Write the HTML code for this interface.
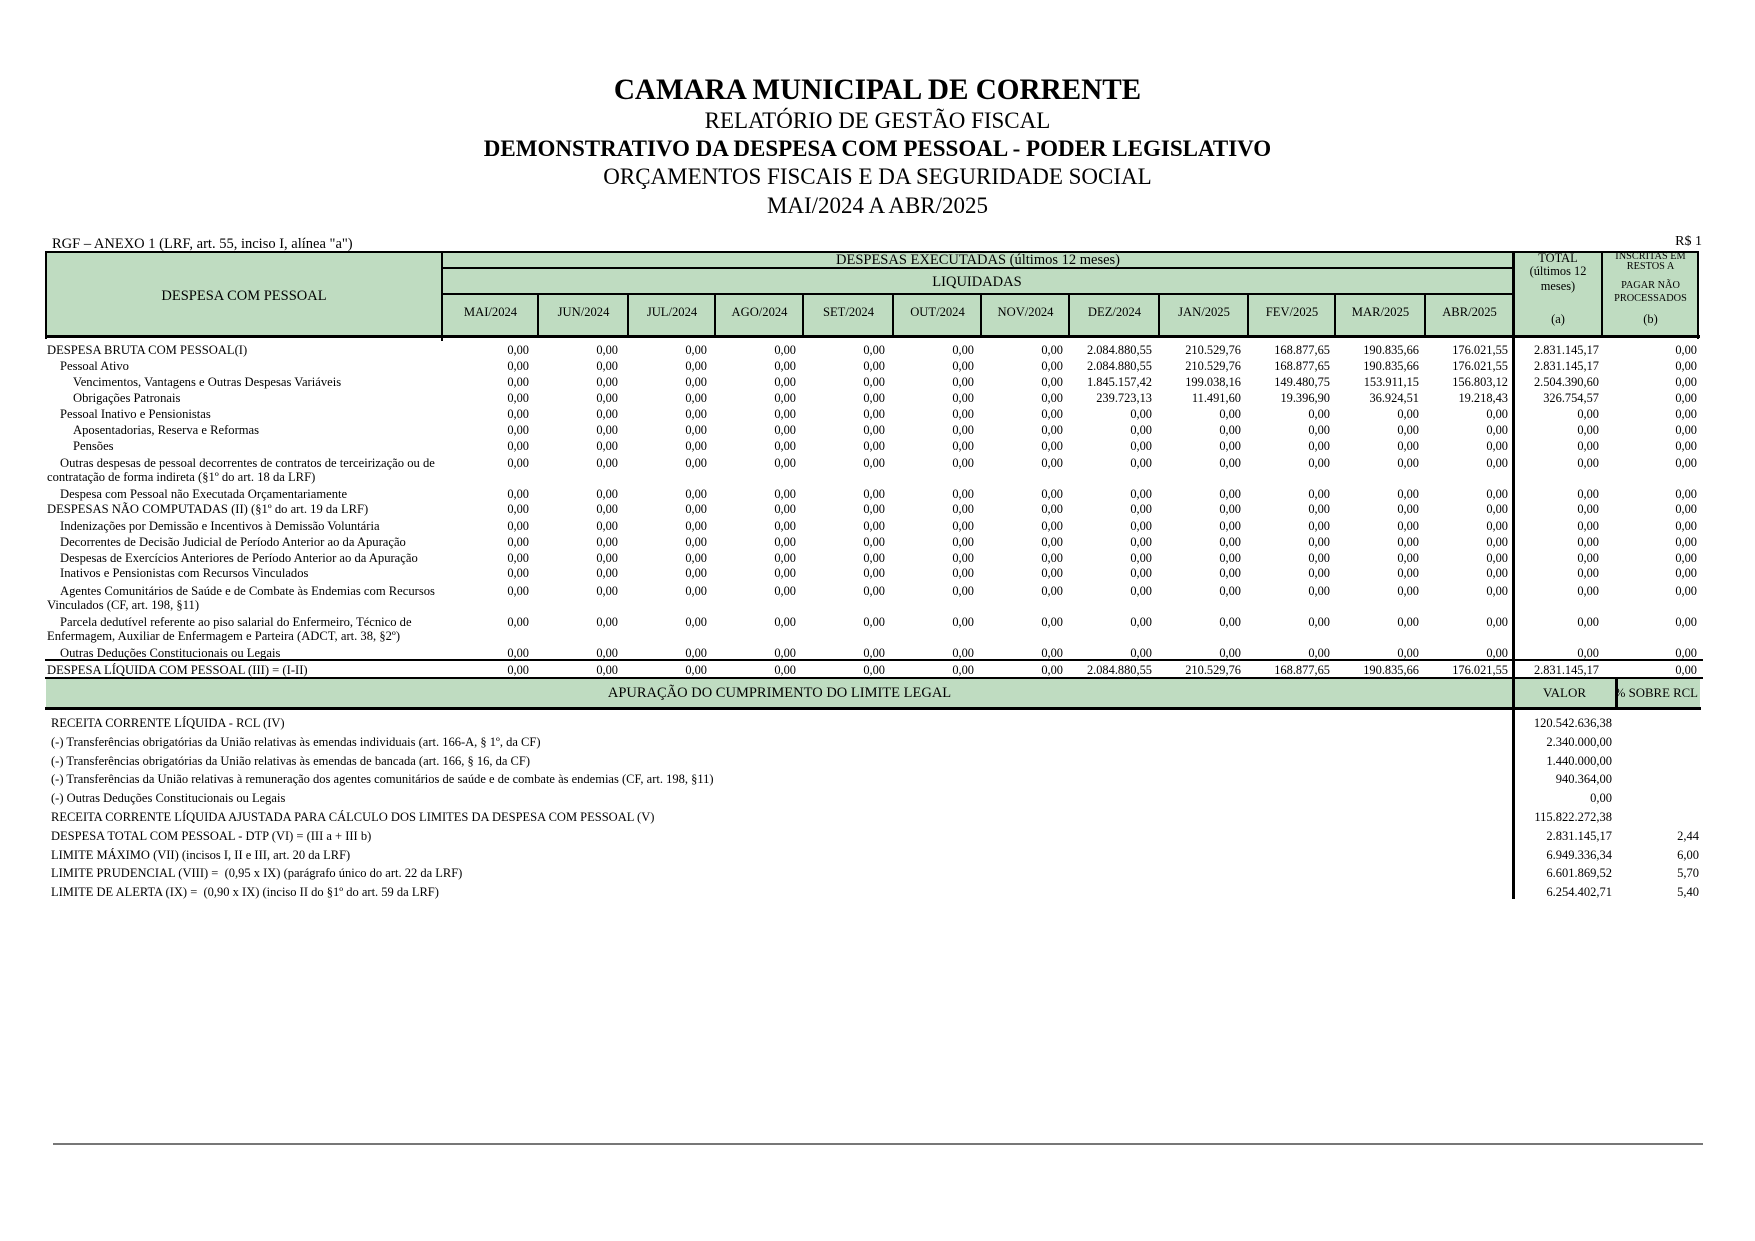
<!DOCTYPE html>
<html>
<head>
<meta charset="utf-8">
<style>
html,body{margin:0;padding:0;background:#fff;}
#p{position:relative;width:1755px;height:1241px;overflow:hidden;background:#fff;font-family:"Liberation Serif","Times New Roman",serif;color:#000;}
.t{position:absolute;white-space:nowrap;line-height:16px;font-size:12.6px;}
.h{font-size:14.5px;line-height:18px;}
.c{text-align:center;}
.ln{position:absolute;background:#000;}
.g{position:absolute;background:#bfdcc1;}
.ti{position:absolute;left:377.5px;width:1000px;text-align:center;white-space:nowrap;}
.v{position:absolute;left:440px;display:grid;grid-template-columns:repeat(12,89px) 91px 98px;line-height:16px;font-size:12.4px;white-space:nowrap;}
.v span{text-align:right;display:block;}
.lo{position:absolute;left:51px;white-space:nowrap;line-height:18px;font-size:12.5px;}
.lv{position:absolute;white-space:nowrap;line-height:18px;font-size:12.5px;text-align:right;}
</style>
</head>
<body>
<div id="p">

<!-- Titles -->
<div class="ti" style="top:71px;font-size:29.2px;line-height:38px;font-weight:bold;">CAMARA MUNICIPAL DE CORRENTE</div>
<div class="ti" style="top:106px;font-size:23px;line-height:30px;">RELATÓRIO DE GESTÃO FISCAL</div>
<div class="ti" style="top:134px;font-size:23px;line-height:30px;font-weight:bold;">DEMONSTRATIVO DA DESPESA COM PESSOAL - PODER LEGISLATIVO</div>
<div class="ti" style="top:162px;font-size:23px;line-height:30px;">ORÇAMENTOS FISCAIS E DA SEGURIDADE SOCIAL</div>
<div class="ti" style="top:191px;font-size:23px;line-height:30px;">MAI/2024 A ABR/2025</div>

<div class="t" style="left:52px;top:234.5px;font-size:14.5px;line-height:18px;">RGF – ANEXO 1 (LRF, art. 55, inciso I, alínea "a")</div>
<div class="t" style="right:53px;top:233px;font-size:14px;line-height:18px;">R$ 1</div>

<!-- Green header -->
<div class="g" style="left:46px;top:252px;width:1652px;height:84px;"></div>

<!-- Header lines -->
<div class="ln" style="left:46px;top:251px;width:1653px;height:2px;"></div>
<div class="ln" style="left:45px;top:251px;width:2px;height:88px;"></div>
<div class="ln" style="left:441px;top:251px;width:2px;height:90px;"></div>
<div class="ln" style="left:442px;top:267px;width:1072px;height:2px;"></div>
<div class="ln" style="left:442px;top:293px;width:1072px;height:2px;"></div>
<div class="ln" style="left:537px;top:294px;width:2px;height:43px;"></div>
<div class="ln" style="left:627px;top:294px;width:2px;height:43px;"></div>
<div class="ln" style="left:714px;top:294px;width:2px;height:43px;"></div>
<div class="ln" style="left:802px;top:294px;width:2px;height:43px;"></div>
<div class="ln" style="left:892px;top:294px;width:2px;height:43px;"></div>
<div class="ln" style="left:980px;top:294px;width:2px;height:43px;"></div>
<div class="ln" style="left:1068px;top:294px;width:2px;height:43px;"></div>
<div class="ln" style="left:1158px;top:294px;width:2px;height:43px;"></div>
<div class="ln" style="left:1247px;top:294px;width:2px;height:43px;"></div>
<div class="ln" style="left:1334px;top:294px;width:2px;height:43px;"></div>
<div class="ln" style="left:1424px;top:294px;width:2px;height:43px;"></div>
<div class="ln" style="left:1512px;top:251px;width:2.5px;height:648px;"></div>
<div class="ln" style="left:1601px;top:251px;width:2px;height:87px;"></div>
<div class="ln" style="left:1697px;top:251px;width:2px;height:88px;"></div>
<div class="ln" style="left:45px;top:335px;width:1655px;height:3px;"></div>

<!-- Header texts -->
<div class="t c h" style="left:46px;width:396px;top:287px;">DESPESA COM PESSOAL</div>
<div class="t c h" style="left:728px;width:500px;top:251px;">DESPESAS EXECUTADAS (últimos 12 meses)</div>
<div class="t c h" style="left:877px;width:200px;top:273px;">LIQUIDADAS</div>
<div class="t c" style="left:443px;width:95px;top:304px;">MAI/2024</div>
<div class="t c" style="left:539px;width:89px;top:304px;">JUN/2024</div>
<div class="t c" style="left:629px;width:86px;top:304px;">JUL/2024</div>
<div class="t c" style="left:716px;width:87px;top:304px;">AGO/2024</div>
<div class="t c" style="left:804px;width:89px;top:304px;">SET/2024</div>
<div class="t c" style="left:894px;width:87px;top:304px;">OUT/2024</div>
<div class="t c" style="left:982px;width:87px;top:304px;">NOV/2024</div>
<div class="t c" style="left:1070px;width:89px;top:304px;">DEZ/2024</div>
<div class="t c" style="left:1160px;width:88px;top:304px;">JAN/2025</div>
<div class="t c" style="left:1249px;width:86px;top:304px;">FEV/2025</div>
<div class="t c" style="left:1336px;width:89px;top:304px;">MAR/2025</div>
<div class="t c" style="left:1426px;width:87px;top:304px;">ABR/2025</div>

<div class="t c" style="left:1514px;width:88px;top:250px;font-size:12.4px;">TOTAL</div>
<div class="t c" style="left:1514px;width:88px;top:263px;font-size:12.4px;">(últimos 12</div>
<div class="t c" style="left:1514px;width:88px;top:278px;font-size:12.4px;">meses)</div>
<div class="t c" style="left:1514px;width:88px;top:311px;font-size:12.4px;">(a)</div>

<div class="t c" style="left:1603px;width:95px;top:251px;font-size:10.3px;line-height:12px;">INSCRITAS EM</div>
<div class="t c" style="left:1603px;width:95px;top:261px;font-size:10.3px;line-height:12px;">RESTOS A</div>
<div class="t c" style="left:1603px;width:95px;top:280px;font-size:10.3px;line-height:12px;">PAGAR NÃO</div>
<div class="t c" style="left:1603px;width:95px;top:293px;font-size:10.3px;line-height:12px;">PROCESSADOS</div>
<div class="t c" style="left:1603px;width:95px;top:311px;font-size:12.4px;">(b)</div>

<!-- Body labels -->
<div class="t" style="left:47px;top:341.5px;">DESPESA BRUTA COM PESSOAL(I)</div>
<div class="t" style="left:60px;top:357.6px;">Pessoal Ativo</div>
<div class="t" style="left:73px;top:373.7px;">Vencimentos, Vantagens e Outras Despesas Variáveis</div>
<div class="t" style="left:73px;top:389.8px;">Obrigações Patronais</div>
<div class="t" style="left:60px;top:405.9px;">Pessoal Inativo e Pensionistas</div>
<div class="t" style="left:73px;top:422px;">Aposentadorias, Reserva e Reformas</div>
<div class="t" style="left:73px;top:438px;">Pensões</div>
<div class="t" style="left:60px;top:454.5px;">Outras despesas de pessoal decorrentes de contratos de terceirização ou de</div>
<div class="t" style="left:47px;top:469px;">contratação de forma indireta (§1º do art. 18 da LRF)</div>
<div class="t" style="left:60px;top:485.5px;">Despesa com Pessoal não Executada Orçamentariamente</div>
<div class="t" style="left:47px;top:501px;">DESPESAS NÃO COMPUTADAS (II) (§1º do art. 19 da LRF)</div>
<div class="t" style="left:60px;top:517.5px;">Indenizações por Demissão e Incentivos à Demissão Voluntária</div>
<div class="t" style="left:60px;top:533.5px;">Decorrentes de Decisão Judicial de Período Anterior ao da Apuração</div>
<div class="t" style="left:60px;top:549.5px;">Despesas de Exercícios Anteriores de Período Anterior ao da Apuração</div>
<div class="t" style="left:60px;top:565px;">Inativos e Pensionistas com Recursos Vinculados</div>
<div class="t" style="left:60px;top:583px;">Agentes Comunitários de Saúde e de Combate às Endemias com Recursos</div>
<div class="t" style="left:47px;top:597px;">Vinculados (CF, art. 198, §11)</div>
<div class="t" style="left:60px;top:613.5px;">Parcela dedutível referente ao piso salarial do Enfermeiro, Técnico de</div>
<div class="t" style="left:47px;top:628px;">Enfermagem, Auxiliar de Enfermagem e Parteira (ADCT, art. 38, §2º)</div>
<div class="t" style="left:60px;top:644.5px;">Outras Deduções Constitucionais ou Legais</div>
<div class="t" style="left:47px;top:661.5px;">DESPESA LÍQUIDA COM PESSOAL (III) = (I-II)</div>

<!-- Body values -->
<div class="v" style="top:341.5px;"><span>0,00</span><span>0,00</span><span>0,00</span><span>0,00</span><span>0,00</span><span>0,00</span><span>0,00</span><span>2.084.880,55</span><span>210.529,76</span><span>168.877,65</span><span>190.835,66</span><span>176.021,55</span><span>2.831.145,17</span><span>0,00</span></div>
<div class="v" style="top:357.6px;"><span>0,00</span><span>0,00</span><span>0,00</span><span>0,00</span><span>0,00</span><span>0,00</span><span>0,00</span><span>2.084.880,55</span><span>210.529,76</span><span>168.877,65</span><span>190.835,66</span><span>176.021,55</span><span>2.831.145,17</span><span>0,00</span></div>
<div class="v" style="top:373.7px;"><span>0,00</span><span>0,00</span><span>0,00</span><span>0,00</span><span>0,00</span><span>0,00</span><span>0,00</span><span>1.845.157,42</span><span>199.038,16</span><span>149.480,75</span><span>153.911,15</span><span>156.803,12</span><span>2.504.390,60</span><span>0,00</span></div>
<div class="v" style="top:389.8px;"><span>0,00</span><span>0,00</span><span>0,00</span><span>0,00</span><span>0,00</span><span>0,00</span><span>0,00</span><span>239.723,13</span><span>11.491,60</span><span>19.396,90</span><span>36.924,51</span><span>19.218,43</span><span>326.754,57</span><span>0,00</span></div>
<div class="v" style="top:405.9px;"><span>0,00</span><span>0,00</span><span>0,00</span><span>0,00</span><span>0,00</span><span>0,00</span><span>0,00</span><span>0,00</span><span>0,00</span><span>0,00</span><span>0,00</span><span>0,00</span><span>0,00</span><span>0,00</span></div>
<div class="v" style="top:422px;"><span>0,00</span><span>0,00</span><span>0,00</span><span>0,00</span><span>0,00</span><span>0,00</span><span>0,00</span><span>0,00</span><span>0,00</span><span>0,00</span><span>0,00</span><span>0,00</span><span>0,00</span><span>0,00</span></div>
<div class="v" style="top:438px;"><span>0,00</span><span>0,00</span><span>0,00</span><span>0,00</span><span>0,00</span><span>0,00</span><span>0,00</span><span>0,00</span><span>0,00</span><span>0,00</span><span>0,00</span><span>0,00</span><span>0,00</span><span>0,00</span></div>
<div class="v" style="top:454.5px;"><span>0,00</span><span>0,00</span><span>0,00</span><span>0,00</span><span>0,00</span><span>0,00</span><span>0,00</span><span>0,00</span><span>0,00</span><span>0,00</span><span>0,00</span><span>0,00</span><span>0,00</span><span>0,00</span></div>
<div class="v" style="top:485.5px;"><span>0,00</span><span>0,00</span><span>0,00</span><span>0,00</span><span>0,00</span><span>0,00</span><span>0,00</span><span>0,00</span><span>0,00</span><span>0,00</span><span>0,00</span><span>0,00</span><span>0,00</span><span>0,00</span></div>
<div class="v" style="top:501px;"><span>0,00</span><span>0,00</span><span>0,00</span><span>0,00</span><span>0,00</span><span>0,00</span><span>0,00</span><span>0,00</span><span>0,00</span><span>0,00</span><span>0,00</span><span>0,00</span><span>0,00</span><span>0,00</span></div>
<div class="v" style="top:517.5px;"><span>0,00</span><span>0,00</span><span>0,00</span><span>0,00</span><span>0,00</span><span>0,00</span><span>0,00</span><span>0,00</span><span>0,00</span><span>0,00</span><span>0,00</span><span>0,00</span><span>0,00</span><span>0,00</span></div>
<div class="v" style="top:533.5px;"><span>0,00</span><span>0,00</span><span>0,00</span><span>0,00</span><span>0,00</span><span>0,00</span><span>0,00</span><span>0,00</span><span>0,00</span><span>0,00</span><span>0,00</span><span>0,00</span><span>0,00</span><span>0,00</span></div>
<div class="v" style="top:549.5px;"><span>0,00</span><span>0,00</span><span>0,00</span><span>0,00</span><span>0,00</span><span>0,00</span><span>0,00</span><span>0,00</span><span>0,00</span><span>0,00</span><span>0,00</span><span>0,00</span><span>0,00</span><span>0,00</span></div>
<div class="v" style="top:565px;"><span>0,00</span><span>0,00</span><span>0,00</span><span>0,00</span><span>0,00</span><span>0,00</span><span>0,00</span><span>0,00</span><span>0,00</span><span>0,00</span><span>0,00</span><span>0,00</span><span>0,00</span><span>0,00</span></div>
<div class="v" style="top:583px;"><span>0,00</span><span>0,00</span><span>0,00</span><span>0,00</span><span>0,00</span><span>0,00</span><span>0,00</span><span>0,00</span><span>0,00</span><span>0,00</span><span>0,00</span><span>0,00</span><span>0,00</span><span>0,00</span></div>
<div class="v" style="top:613.5px;"><span>0,00</span><span>0,00</span><span>0,00</span><span>0,00</span><span>0,00</span><span>0,00</span><span>0,00</span><span>0,00</span><span>0,00</span><span>0,00</span><span>0,00</span><span>0,00</span><span>0,00</span><span>0,00</span></div>
<div class="v" style="top:644.5px;"><span>0,00</span><span>0,00</span><span>0,00</span><span>0,00</span><span>0,00</span><span>0,00</span><span>0,00</span><span>0,00</span><span>0,00</span><span>0,00</span><span>0,00</span><span>0,00</span><span>0,00</span><span>0,00</span></div>
<div class="v" style="top:661.5px;"><span>0,00</span><span>0,00</span><span>0,00</span><span>0,00</span><span>0,00</span><span>0,00</span><span>0,00</span><span>2.084.880,55</span><span>210.529,76</span><span>168.877,65</span><span>190.835,66</span><span>176.021,55</span><span>2.831.145,17</span><span>0,00</span></div>

<!-- Lines around DESPESA LIQUIDA and green band -->
<div class="ln" style="left:45px;top:659px;width:1658px;height:2px;"></div>
<div class="g" style="left:46px;top:679px;width:1654px;height:29px;"></div>
<div class="ln" style="left:45px;top:677px;width:1658px;height:2px;"></div>
<div class="ln" style="left:45px;top:707px;width:1656px;height:3px;"></div>
<div class="ln" style="left:1512px;top:677px;width:2.5px;height:33px;"></div>
<div class="ln" style="left:1615px;top:678px;width:2.5px;height:31px;"></div>

<div class="t c h" style="left:46px;width:1467px;top:684px;">APURAÇÃO DO CUMPRIMENTO DO LIMITE LEGAL</div>
<div class="t c" style="left:1514px;width:101px;top:685px;font-size:13px;">VALOR</div>
<div style="position:absolute;left:1618px;top:685px;width:82px;height:16px;overflow:hidden;">
  <div class="t" style="right:2px;top:0;font-size:12.8px;">% SOBRE RCL</div>
</div>

<!-- Lower section -->
<div class="lo" style="top:714px;">RECEITA CORRENTE LÍQUIDA - RCL (IV)</div>
<div class="lo" style="top:732.8px;">(-) Transferências obrigatórias da União relativas às emendas individuais (art. 166-A, § 1º, da CF)</div>
<div class="lo" style="top:751.6px;">(-) Transferências obrigatórias da União relativas às emendas de bancada (art. 166, § 16, da CF)</div>
<div class="lo" style="top:770.4px;">(-) Transferências da União relativas à remuneração dos agentes comunitários de saúde e de combate às endemias (CF, art. 198, §11)</div>
<div class="lo" style="top:789.2px;">(-) Outras Deduções Constitucionais ou Legais</div>
<div class="lo" style="top:808px;">RECEITA CORRENTE LÍQUIDA AJUSTADA PARA CÁLCULO DOS LIMITES DA DESPESA COM PESSOAL (V)</div>
<div class="lo" style="top:826.8px;">DESPESA TOTAL COM PESSOAL - DTP (VI) = (III a + III b)</div>
<div class="lo" style="top:845.6px;">LIMITE MÁXIMO (VII) (incisos I, II e III, art. 20 da LRF)</div>
<div class="lo" style="top:864.4px;">LIMITE PRUDENCIAL (VIII) =&nbsp; (0,95 x IX) (parágrafo único do art. 22 da LRF)</div>
<div class="lo" style="top:883.2px;">LIMITE DE ALERTA (IX) =&nbsp; (0,90 x IX) (inciso II do §1º do art. 59 da LRF)</div>

<div class="lv" style="right:143px;top:714px;">120.542.636,38</div>
<div class="lv" style="right:143px;top:732.8px;">2.340.000,00</div>
<div class="lv" style="right:143px;top:751.6px;">1.440.000,00</div>
<div class="lv" style="right:143px;top:770.4px;">940.364,00</div>
<div class="lv" style="right:143px;top:789.2px;">0,00</div>
<div class="lv" style="right:143px;top:808px;">115.822.272,38</div>
<div class="lv" style="right:143px;top:826.8px;">2.831.145,17</div>
<div class="lv" style="right:143px;top:845.6px;">6.949.336,34</div>
<div class="lv" style="right:143px;top:864.4px;">6.601.869,52</div>
<div class="lv" style="right:143px;top:883.2px;">6.254.402,71</div>

<div class="lv" style="right:56px;top:826.8px;">2,44</div>
<div class="lv" style="right:56px;top:845.6px;">6,00</div>
<div class="lv" style="right:56px;top:864.4px;">5,70</div>
<div class="lv" style="right:56px;top:883.2px;">5,40</div>

<!-- Footer line -->
<div style="position:absolute;left:53px;top:1143px;width:1650px;height:2px;background:#777;"></div>

</div>
</body>
</html>
